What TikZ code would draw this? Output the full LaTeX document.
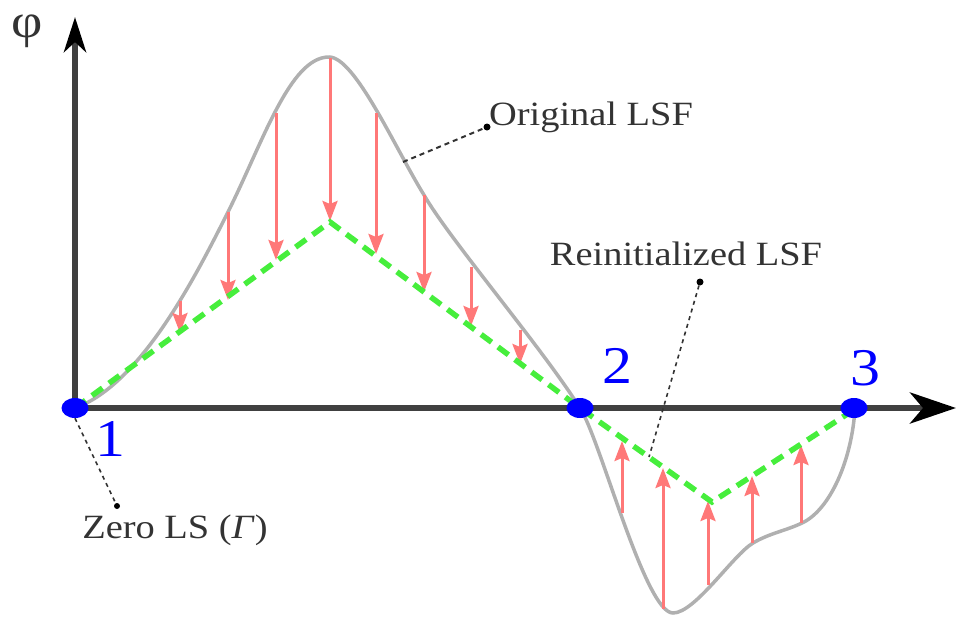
\documentclass[tikz,border=0pt]{standalone}
\usepackage{fontspec}
\setmainfont{Liberation Serif}
\newfontfamily\lab[FakeStretch=1.13]{Liberation Serif}
\usetikzlibrary{arrows.meta,shapes.geometric}
\definecolor{axisgray}{HTML}{404040}
\definecolor{curvegray}{HTML}{B0B0B0}
\definecolor{lsfgreen}{RGB}{70,238,60}
\definecolor{arrred}{RGB}{255,120,120}
\definecolor{txtgray}{HTML}{333333}
\definecolor{ptblue}{RGB}{0,0,255}
\tikzset{
  axisline/.style={draw=axisgray,line width=6pt},
  origcurve/.style={draw=curvegray,line width=3.5pt},
  reinit/.style={draw=lsfgreen,line width=5.5pt,dash pattern=on 13pt off 8pt},
  corr/.style={draw=arrred,line width=3pt,-{Stealth[length=20pt,width=15pt,inset=3pt]}},
  leader/.style={draw=txtgray,line width=2pt,dash pattern=on 5pt off 4pt},
  leaderthin/.style={draw=txtgray,line width=1.6pt,dash pattern=on 4pt off 4pt},
  leaddot/.style={circle,fill=black,inner sep=0pt,minimum size=7pt},
  zeropt/.style={ellipse,fill=ptblue,inner sep=0pt,minimum width=27pt,minimum height=20pt},
  ptlabel/.style={text=ptblue,inner sep=0pt,anchor=base,font=\lab\fontsize{53}{58}\selectfont},
  lbl/.style={text=txtgray,inner sep=0pt,anchor=base,font=\lab\fontsize{34}{40}\selectfont}
}
\begin{document}
\begin{tikzpicture}[x=1pt,y=-1pt]
\useasboundingbox (0,0) rectangle (957,619);
% axes
\coordinate (O) at (75,408);
\coordinate (ybot) at (75,411);
\coordinate (ytop) at (75,17);
\coordinate (xleft) at (72,408);
\coordinate (xright) at (956,408);
\draw[axisline,-{Stealth[length=35pt,width=22pt,inset=10pt,color=black]}] (ybot) -- (ytop);
\draw[axisline,-{Stealth[length=46pt,width=31pt,inset=13pt,color=black]}] (xleft) -- (xright);
\node[text=txtgray,inner sep=0pt,anchor=base,font=\lab\fontsize{48}{52}\selectfont] (phi) at (27.5,37) {φ};
% original level set function
\draw[origcurve] (75,408)
  .. controls (140,385) and (195,278) .. (228,212)
  .. controls (263,142) and (290,57) .. (329,57)
  .. controls (355,57) and (395,148) .. (424,195)
  .. controls (450,240) and (540,345) .. (580,408)
  .. controls (600,438) and (645,613) .. (673,613)
  .. controls (695,613) and (733,555) .. (753,543)
  .. controls (770,533) and (785,531) .. (802,523)
  .. controls (830,510) and (852,460) .. (855,408);
% correction arrows
\foreach \x/\a/\b in {180/301/333, 228/212/300, 276/113/260, 330/58/221, 376/113/254,
  424/195/292, 471/267/326, 520/330/364, 622/513/441, 663/609/468, 708/585/501,
  752/543/476, 801/523/445}
  \draw[corr] (\x,\a) -- (\x,\b);
% reinitialized level set function
\coordinate (g1) at (330,222);
\coordinate (g2) at (712,502);
\draw[reinit] (O) -- (g1) -- (580,408) -- (g2) -- (852,411);
% zero level set points
\node[zeropt] (p1) at (75,408) {};
\node[zeropt] (p2) at (580,408) {};
\node[zeropt] (p3) at (854,408) {};
\node[ptlabel] (l1) at (110,456) {1};
\node[ptlabel] (l2) at (617,383) {2};
\node[ptlabel] (l3) at (865,385) {3};
% annotations
\node[lbl] (orig) at (591,125) {Original LSF};
\node[lbl] (rein) at (686,265) {Reinitialized LSF};
\node[lbl] (zero) at (175,538) {Zero LS (\textit{Γ})};
\coordinate (oc) at (403,162);
\node[leaddot] (od) at (487,127) {};
\draw[leader] (oc) -- (od);
\coordinate (rc) at (649,457);
\node[leaddot] (rd) at (700,282) {};
\draw[leaderthin] (rd) -- (rc);
\node[leaddot,minimum size=6pt] (zd) at (117,506) {};
\draw[leaderthin] (p1.south) -- (zd);
\end{tikzpicture}
\end{document}
